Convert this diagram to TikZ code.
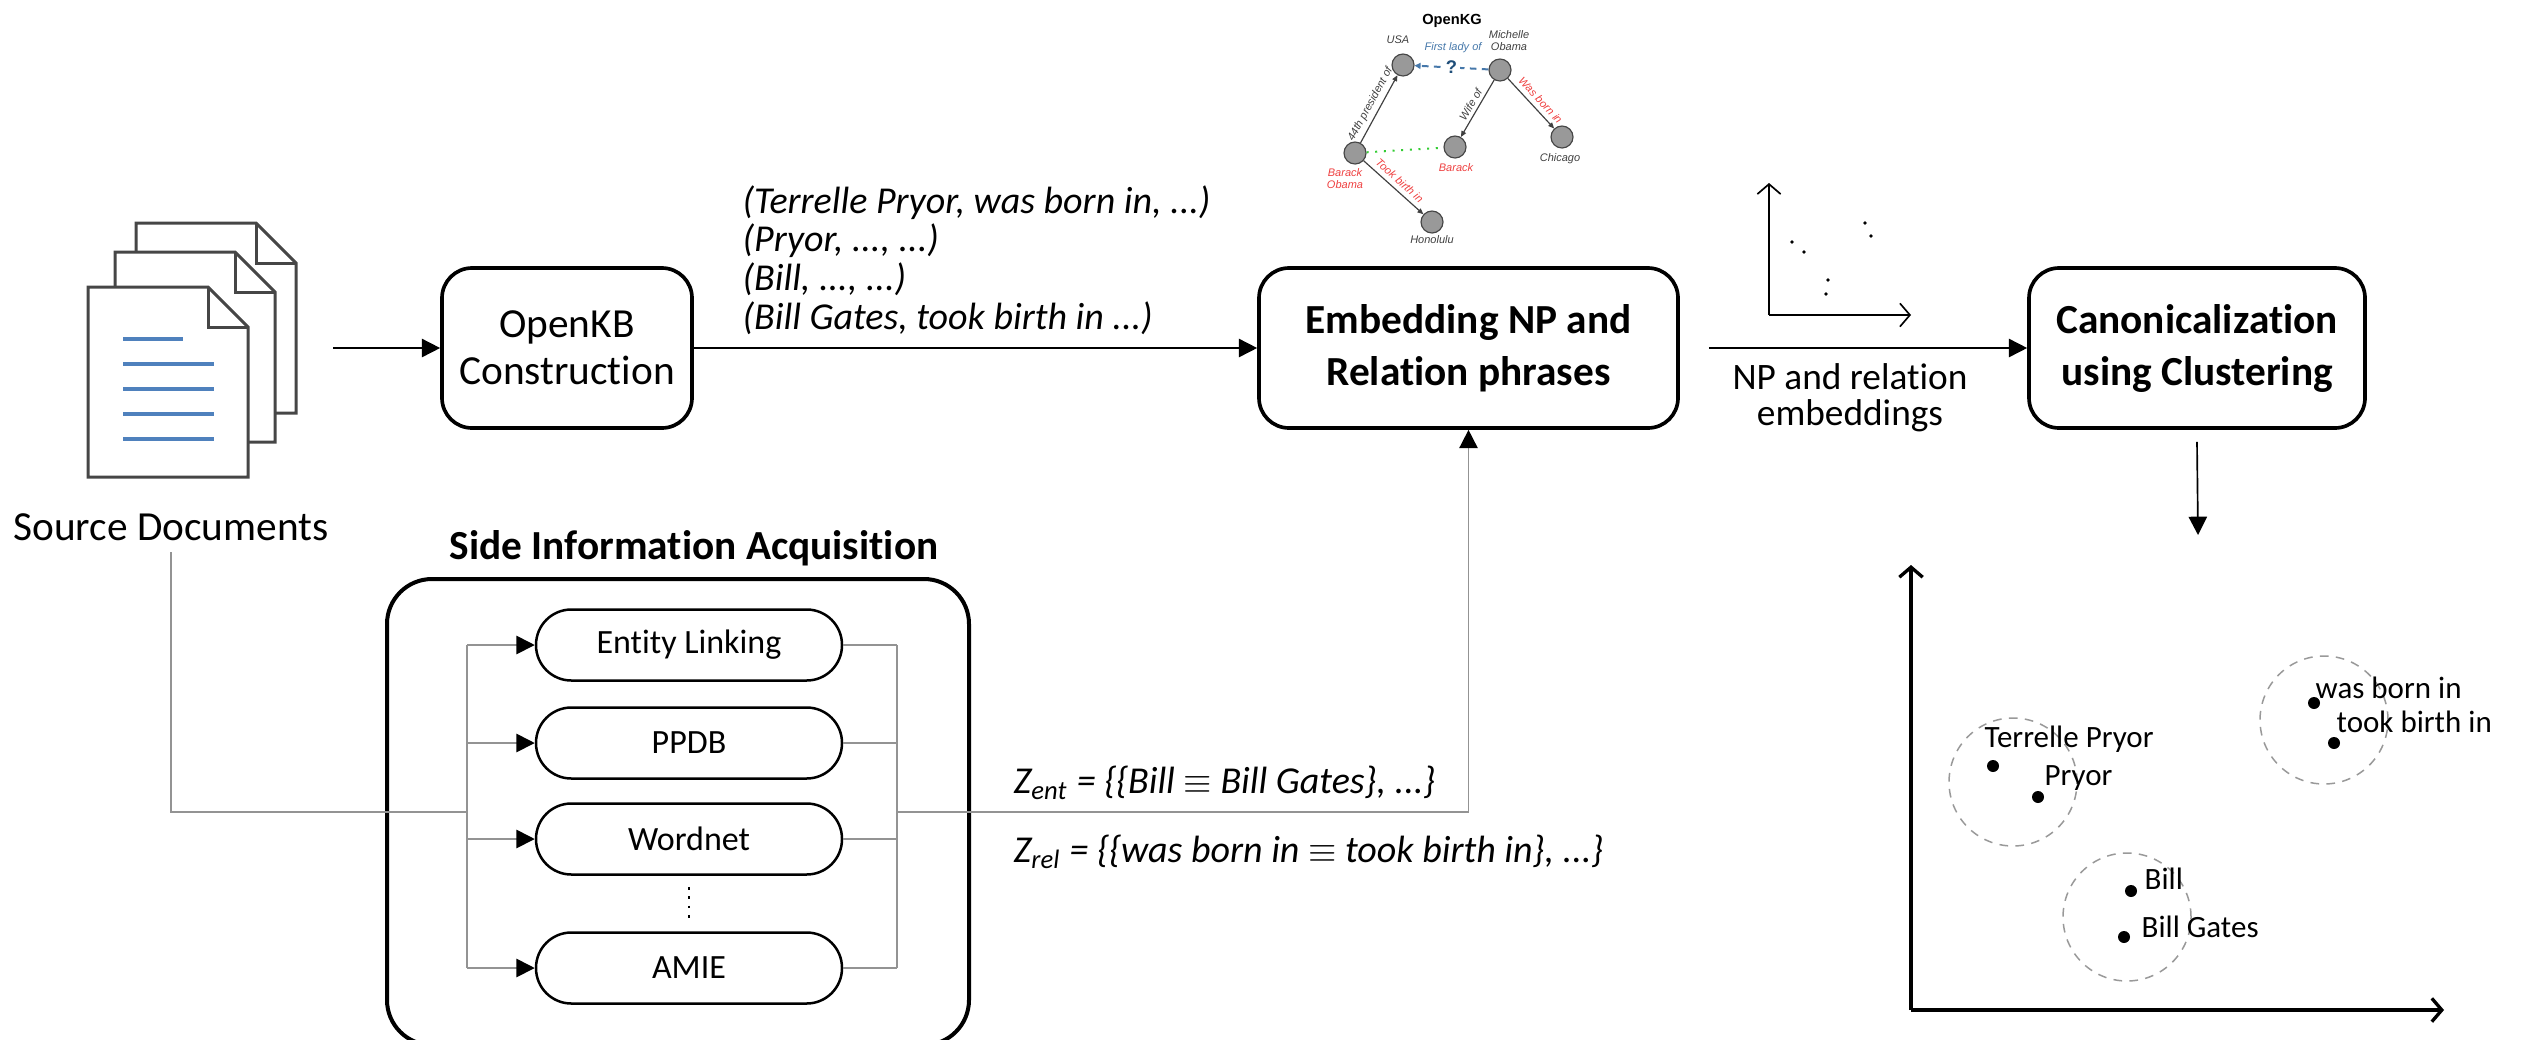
\documentclass[tikz,border=0pt]{standalone}
\usepackage{fontspec}
\setmainfont{Carlito}[Ligatures=CommonOff]
\newfontfamily\kgfont{Liberation Sans}
\usetikzlibrary{calc,arrows.meta}
\tikzset {>={Triangle[length=5.5pt,width=5.5pt]}}
\definecolor{docblue}{RGB}{79,129,189}
\definecolor{kgred}{RGB}{238,64,64}
\definecolor{kgblue}{RGB}{70,120,170}
\definecolor{kgdark}{RGB}{31,78,121}
\definecolor{kggreen}{RGB}{51,204,51}
\tikzset{
  block/.style={draw,line width=1.1pt,rounded corners=9pt,align=center,
    minimum height=48pt,font=\fontsize{12.4}{14}\selectfont},
  boldblock/.style={block,font=\bfseries\fontsize{12.4}{15.6}\selectfont},
  source/.style={draw,line width=.75pt,rounded corners=10.6pt,
    minimum width=91.8pt,minimum height=21.3pt,font=\fontsize{10.2}{12}\selectfont},
  wire/.style={draw=gray!85,line width=.5pt},
  tip/.style={-{Triangle[length=5.5pt,width=5.5pt,color=black]}},
  plotaxis/.style={line width=#1,-{Straight Barb[length=3pt,width=7pt]}},
  kgnode/.style={circle,draw=gray!55!black,fill=gray!80,line width=.35pt,
    minimum size=6.6pt,inner sep=0pt},
  kgtext/.style={font=\kgfont\itshape\fontsize{3.3}{3.6}\selectfont,text=black!75,
    align=center,inner sep=.6pt},
  kgedge/.style={draw=black!75,line width=.35pt,-{Triangle[length=1.8pt,width=1.5pt]}},
  cluster/.style={draw=gray!80,dash pattern=on 2.6pt off 2.2pt,line width=.45pt},
  point/.style={font=\fontsize{9.3}{11}\selectfont,anchor=west,inner sep=0pt},
  triple/.style={font=\itshape\fontsize{11.4}{11.6}\selectfont,align=left,anchor=west,inner sep=0pt}
}
% one sheet of the stack, top left corner at #1
\newcommand{\docpage}[1]{%
  \filldraw[fill=white,draw=gray!55!black,line width=.9pt]
    (#1) -- ++(120,0) -- ++(40,40) -- ++(0,150) -- ++(-160,0) -- cycle;
  \draw[gray!55!black,line width=.9pt] ($(#1)+(120,0)$) -- ++(0,40) -- ++(40,0);}

\begin{document}
\begin{tikzpicture}[x=0.3pt,y=-0.3pt]
\useasboundingbox (0,0) rectangle (2523,1039);

% stack of source documents
\docpage{136,223}
\docpage{115,252}
\docpage{88,287}
\draw[docblue,line width=1pt] (123,339) -- (183,339);
\foreach \y in {364,389,414,439}
  \draw[docblue,line width=1pt] (123,\y) -- (214,\y);
\node[font=\fontsize{12.4}{15}\selectfont] (srclabel) at (171,527) {Source Documents};
\coordinate (docs) at (333,348);

% main pipeline
\node[block,minimum width=75pt] (openkb) at (567,348) {OpenKB\\Construction};
\node[boldblock,minimum width=125.7pt] (embed) at (1468.5,348) {Embedding NP and\\Relation phrases};
\node[boldblock,minimum width=100.8pt] (canon) at (2197,348) {Canonicalization\\using Clustering};
\draw[->,line width=.5pt] (docs) -- (openkb);
\draw[->,line width=.5pt] (openkb) -- (embed);
\node[triple] (triples) at (742,260)
  {(Terrelle Pryor, was born in, ...)\\(Pryor, ..., ...)\\(Bill, ..., ...)\\(Bill Gates, took birth in ...)};
\draw[->,line width=.5pt] ([xshift=8.7pt]embed.east) -- (canon);
\node[font=\fontsize{11.2}{10.8}\selectfont,align=center] (npemb) at (1850,398) {NP and relation\\embeddings};
\coordinate (plottop) at (2198,535);
\draw[->,line width=.5pt] ([yshift=-3.6pt]canon.south) -- (plottop);

% side information
\node[font=\bfseries\fontsize{12.4}{15}\selectfont] (siatitle) at (694,548) {Side Information Acquisition};
\node[draw,line width=1.2pt,rounded corners=13.5pt,minimum width=174.6pt,minimum height=139.8pt] (sia) at (678,812) {};
\node[source] (el) at (689,645) {Entity Linking};
\node[source] (ppdb) at (689,743) {PPDB};
\node[source] (wn) at (689,839) {Wordnet};
\node[source] (amie) at (689,968) {AMIE};
\draw[dotted,line width=.8pt] ($(wn.south)!.2!(amie.north)$) -- ($(wn.south)!.85!(amie.north)$);
\coordinate (inbus) at (467,812);
\coordinate (outbus) at (897,812);
\draw[wire] (srclabel.south) |- (inbus);
\draw[wire] (inbus |- el.west) -- (inbus |- amie.west);
\draw[wire] (outbus |- el.east) -- (outbus |- amie.east);
\foreach \n in {el,ppdb,wn,amie} {
  \draw[wire,tip] (inbus |- \n.west) -- (\n.west);
  \draw[wire] (\n.east) -- (outbus |- \n.east);
}
\draw[wire,tip] (outbus) -| (embed.south);
\node[triple] (zent) at (1013,783) {Z\textsubscript{ent} = \{\{Bill $\equiv$ Bill Gates\}, ...\}};
\node[triple] (zrel) at (1013,852) {Z\textsubscript{rel} = \{\{was born in $\equiv$ took birth in\}, ...\}};

% small open knowledge graph
\node[font=\kgfont\bfseries\fontsize{4.4}{5}\selectfont] (kgtitle) at (1452,21) {OpenKG};
\node[kgnode] (usa) at (1403,65) {};
\node[kgnode] (michelle) at (1500,70) {};
\node[kgnode] (obama) at (1355,153) {};
\node[kgnode] (barack) at (1455,147) {};
\node[kgnode] (chicago) at (1562,137) {};
\node[kgnode] (honolulu) at (1432,222) {};
\node[kgtext] (usalabel) at (1398,40) {USA};
\node[kgtext] (michellelabel) at (1509,41) {Michelle\\Obama};
\node[kgtext,text=kgred] (obamalabel) at (1345,179) {Barack\\Obama};
\node[kgtext,text=kgred] (baracklabel) at (1456,168) {Barack};
\node[kgtext] (chicagolabel) at (1560,159) {Chicago};
\node[kgtext] (honolululabel) at (1432,240) {Honolulu};
\draw[kgedge] (obama) -- node[kgtext,sloped,above=.6pt] {44th president of} (usa);
\draw[kgedge] (michelle) -- node[kgtext,sloped,above=.4pt] {Wife of} (barack);
\draw[kgedge] (michelle) -- node[kgtext,sloped,above=.8pt,pos=.56,text=kgred] {Was born in} (chicago);
\draw[kgedge] (obama) -- node[kgtext,sloped,above=.8pt,text=kgred] {Took birth in} (honolulu);
\draw[kggreen,dotted,line width=.6pt] (obama) -- (barack);
\draw[kgblue,line width=.6pt,dash pattern=on 2pt off 1.6pt,-{Triangle[length=1.8pt,width=1.8pt]}]
  (michelle) -- node[fill=white,inner sep=1pt,text=kgdark,font=\kgfont\bfseries\fontsize{5.5}{5.5}\selectfont] (qmark) {?} (usa);
\node[kgtext,text=kgblue] (firstlady) at (1453,48) {First lady of};

% embeddings before clustering
\coordinate (small) at (1769,315);
\draw[plotaxis=.5pt] (small) -- (1769,183);
\draw[plotaxis=.5pt] (small) -- (1911,315);
\foreach \p in {(1792,242),(1804,252),(1865,223),(1871,236),(1828,280),(1826,294)}
  \fill \p circle (.55pt);

% clustered embeddings
\coordinate (origin) at (1911,1010);
\draw[plotaxis=1pt] (origin) -- (1911,565);
\draw[plotaxis=1pt] (origin) -- (2444,1010);
\draw[cluster] (2013,782) circle (19.2pt);
\draw[cluster] (2127,917) circle (19.2pt);
\draw[cluster] (2324,720) circle (19.2pt);
\foreach \p in {(1993,766),(2038,797),(2131,891),(2124,937),(2314,703),(2334,743)}
  \fill \p circle (1.8pt);
\node[point] (terrelle) at (1984,739) {Terrelle Pryor};
\node[point] (pryor) at (2044,778) {Pryor};
\node[point] (bill) at (2144,879) {Bill};
\node[point] (gates) at (2141,927) {Bill Gates};
\node[point] (born) at (2315,688) {was born in};
\node[point] (birth) at (2336,722) {took birth in};
\end{tikzpicture}
\end{document}
